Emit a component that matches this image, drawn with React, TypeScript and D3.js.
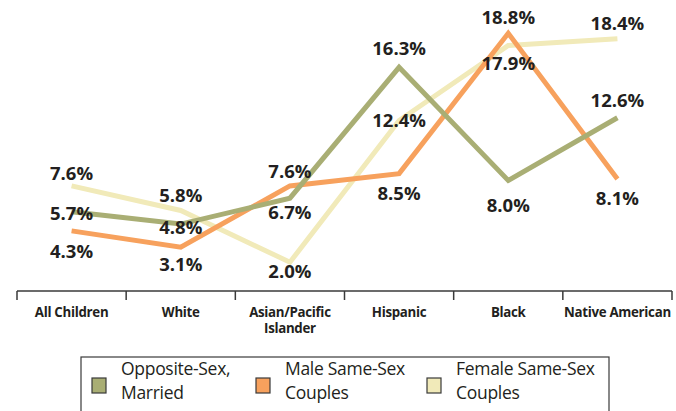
import React from "react";
import * as d3 from "d3";

const categories = ["All Children", "White", "Asian/Pacific Islander", "Hispanic", "Black", "Native American"];
const categoryLines = [["All Children"], ["White"], ["Asian/Pacific", "Islander"], ["Hispanic"], ["Black"], ["Native American"]];
const seriesNames = ["Opposite-Sex, Married", "Male Same-Sex Couples", "Female Same-Sex Couples"];
const legendLines = [["Opposite-Sex,", "Married"], ["Male Same-Sex", "Couples"], ["Female Same-Sex", "Couples"]];
const oppositeSex = [5.7, 4.8, 6.7, 16.3, 8.0, 12.6];
const maleSameSex = [4.3, 3.1, 7.6, 8.5, 18.8, 8.1];
const femaleSameSex = [7.6, 5.8, 2.0, 12.4, 17.9, 18.4];

// label baseline offsets (px) from each point
const labelDy = [
  [8, 10, 21, -12, 32, -11],
  [27, 24, -8, 26, -9, 26],
  [-6, -8, 16, 7, 24, -9],
];

const colors = ["#a9ae74", "#f7a15d", "#f1eab9"];
const textColor = "#231f20";
const W = 676, H = 411;

export default function App() {
  const series = [oppositeSex, maleSameSex, femaleSameSex];
  const x = d3.scaleBand<string>().domain(categories).range([17, 672]);
  const y = d3.scaleLinear().domain([0, 20]).range([289.5, 16.9]);
  const cx = (c: string) => (x(c) as number) + x.bandwidth() / 2;
  const line = d3.line<number>().x((_, i) => cx(categories[i])).y((v) => y(v));
  const ticks = [...categories.map((c) => x(c) as number), 672];
  const drawOrder = [2, 1, 0];
  const labelFont = "'Open Sans', 'DejaVu Sans', sans-serif";
  const legendX = [92, 256, 427];
  return (
    <svg width={W} height={H} style={{ position: "absolute", left: 0, top: 0, background: "#fff" }}>
      {/* axis */}
      <line x1={17} x2={672} y1={291} y2={291} stroke="#3a3a3a" strokeWidth={1.5} />
      {ticks.map((t, i) => (
        <line key={i} x1={t} x2={t} y1={291} y2={300} stroke="#3a3a3a" strokeWidth={1.5} />
      ))}
      {categoryLines.map((lines, i) =>
        lines.map((l, j) => (
          <text key={`${i}-${j}`} x={cx(categories[i])} y={316.5 + j * 16.5} textAnchor="middle" fontFamily={labelFont}
            fontWeight={700} fontSize={13.3} fill={textColor} letterSpacing={-0.3}>
            {l}
          </text>
        ))
      )}
      {/* lines */}
      {drawOrder.map((s) => (
        <path key={s} d={line(series[s]) as string} fill="none" stroke={colors[s]} strokeWidth={5}
          strokeLinejoin="miter" />
      ))}
      {/* labels */}
      {series.map((vals, s) =>
        vals.map((v, i) => (
          <text key={`${s}-${i}`} x={cx(categories[i])} y={y(v) + labelDy[s][i]} textAnchor="middle"
            fontFamily={labelFont} fontWeight={700} fontSize={18.5} fill={textColor}>
            {v.toFixed(1)}%
          </text>
        ))
      )}
      {/* legend */}
      <rect x={81} y={357} width={528} height={70} fill="none" stroke="#3a3a3a" strokeWidth={1.2} />
      {seriesNames.map((n, i) => (
        <g key={n}>
          <rect x={legendX[i]} y={378} width={14} height={15} fill={colors[i]} stroke="#3a3a3a" strokeWidth={1.2} />
          {legendLines[i].map((l, j) => (
            <text key={j} x={legendX[i] + 29} y={375 + j * 24} fontFamily={labelFont} fontSize={17.5}
              fill={textColor} letterSpacing={-0.3}>
              {l}
            </text>
          ))}
        </g>
      ))}
    </svg>
  );
}
